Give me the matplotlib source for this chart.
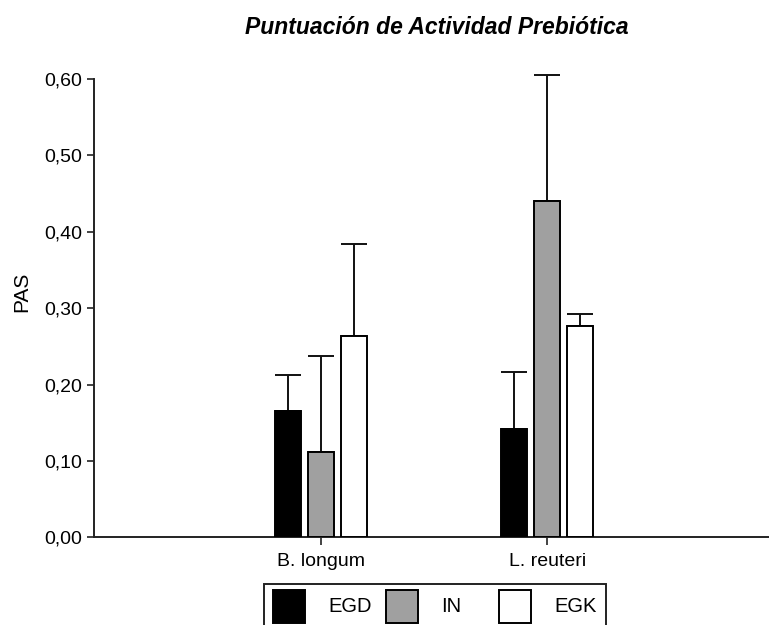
import matplotlib
matplotlib.use("Agg")
import matplotlib.pyplot as plt
from matplotlib.patches import Rectangle
import numpy as np

plt.rcParams['font.family'] = ['Liberation Sans', 'DejaVu Sans']

# Data
strains = ["B. longum", "L. reuteri"]
series = ["EGD", "IN", "EGK"]
means = {
    "EGD": [0.165, 0.142],
    "IN":  [0.112, 0.440],
    "EGK": [0.264, 0.277],
}
errors = {
    "EGD": [0.048, 0.074],
    "IN":  [0.126, 0.165],
    "EGK": [0.120, 0.015],
}
colors = {"EGD": "#000000", "IN": "#a0a0a0", "EGK": "#ffffff"}
yticks = [0.0, 0.1, 0.2, 0.3, 0.4, 0.5, 0.6]
ytick_labels = ["0,00", "0,10", "0,20", "0,30", "0,40", "0,50", "0,60"]

W, H = 769, 625
fig = plt.figure(figsize=(W / 100, H / 100), dpi=100)
ax = fig.add_axes([94 / W, 1 - 537.3 / H, 1 - 94 / W, (537.3 - 79) / H])

x = np.arange(len(strains))
step = 0.146
width = 0.115
lw = 1.4
for i, s in enumerate(series):
    pos = x + (i - 1) * step
    ax.bar(pos, means[s], width=width, color=colors[s], edgecolor="black",
           linewidth=lw, zorder=3)
    ax.errorbar(pos, means[s], yerr=[np.zeros(len(strains)), errors[s]],
                fmt="none", ecolor="#111111", elinewidth=lw, capsize=9.4,
                capthick=lw, clip_on=False, zorder=2)

ax.set_xlim(-1.004, 1.98)
ax.set_ylim(0, 0.6)
ax.set_yticks(yticks)
ax.set_yticklabels(ytick_labels)
ax.set_xticks(x)
ax.set_xticklabels(strains)
for side in ("top", "right"):
    ax.spines[side].set_visible(False)
for side in ("left", "bottom"):
    ax.spines[side].set_linewidth(1.4)
    ax.spines[side].set_color("#222222")
ax.tick_params(axis="y", direction="out", length=5, width=1.2, pad=3.5,
               labelsize=14, colors="#222222", labelcolor="black")
ax.tick_params(axis="x", direction="out", length=6, width=1.2, pad=5,
               labelsize=14, colors="#222222", labelcolor="black")

fig.text(22 / W, 1 - 292 / H, "PAS", rotation=90, ha="center", va="center",
         fontsize=15)
fig.text(437 / W, 1 - 27 / H, "Puntuación de Actividad Prebiótica",
         ha="center", va="center", fontsize=16.5, fontweight="bold",
         fontstyle="italic")

# Legend panel below the axis (pixel coordinates)
lx0, lx1, ltop = 263, 607, 583
lax = fig.add_axes([lx0 / W, 0, (lx1 - lx0) / W, (H - ltop) / H])
lax.set_xlim(0, lx1 - lx0)
lax.set_ylim(0, H - ltop)
lax.axis("off")
lax.add_patch(Rectangle((1, -20), lx1 - lx0 - 2, H - ltop - 1 + 20,
                        facecolor="none", edgecolor="#222222", linewidth=1.4,
                        clip_on=False))
for i, s in enumerate(series):
    sx = 10 + i * 113
    lax.add_patch(Rectangle((sx, 2), 32, 33, facecolor=colors[s],
                            edgecolor="black", linewidth=1.4))
    lax.text(sx + 55, 18.5, s, ha="left", va="center", fontsize=14.5)

fig.savefig("out.png", dpi=100)
